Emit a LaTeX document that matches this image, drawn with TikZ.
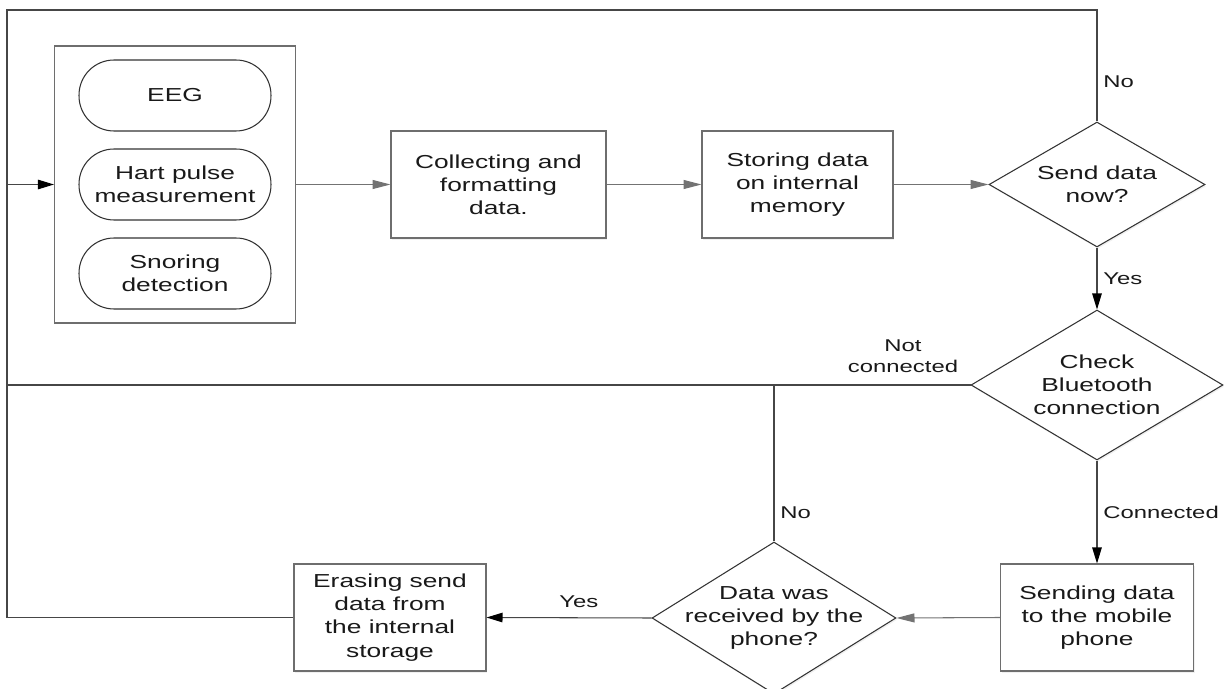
\documentclass[tikz,border=0pt]{standalone}
\usepackage{fontspec}
\setmainfont{Liberation Sans}[FakeStretch=1.4]
\usetikzlibrary{positioning, shapes.geometric, arrows.meta, fit, shadows}

\definecolor{linedark}{RGB}{70,70,70}
\definecolor{flowgray}{RGB}{115,115,115}
\definecolor{boxgray}{RGB}{110,110,110}

\begin{document}
\begin{tikzpicture}[
        x=0.02cm, y=-0.02cm,
        box_text/.style={font=\fontsize{10.7}{13.2}\selectfont, align=center, text=black!90},
        sensor_node/.style={draw=black!80, rectangle, rounded corners=0.7cm, minimum width=3.84cm, minimum height=1.42cm, line width=0.6pt, box_text},
        group_node/.style={draw=boxgray, rectangle, inner xsep=0.48cm, inner ysep=0.27cm, line width=0.6pt},
        process_node/.style={draw=boxgray, fill=white, rectangle, minimum height=2.14cm, line width=0.6pt, box_text, drop shadow={shadow xshift=0.6pt, shadow yshift=-1pt, opacity=0.12}},
        decision_node/.style={draw=black!80, fill=white, diamond, inner sep=0pt, line width=0.6pt, drop shadow={shadow xshift=0.6pt, shadow yshift=-1pt, opacity=0.12}},
        edge_label/.style={font=\fontsize{9.7}{12}\selectfont, align=center, text=black!90},
        line/.style={draw=linedark, line width=0.6pt},
        arrow/.style={line, -{Triangle[length=0.32cm, width=0.19cm, color=black]}},
        flow_arrow/.style={draw=flowgray, line width=0.6pt, -{Triangle[length=0.36cm, width=0.18cm, color=flowgray]}}
    ]
        \useasboundingbox (0,0) rectangle (1225,689);

        % Nodes
        \node (eeg) [sensor_node] at (175,95.5) {EEG};
        \node (pulse) [sensor_node] at (175,184.5) {Hart pulse\\measurement};
        \node (snoring) [sensor_node] at (175,273.5) {Snoring\\detection};
        \node (sensors) [group_node, fit=(eeg) (pulse) (snoring)] {};
        \node (collect) [process_node, minimum width=4.3cm] at (498.5,184.5) {Collecting and\\formatting\\data.};
        \node (storing) [process_node, minimum width=3.82cm] at (797.5,184.5) {Storing data\\on internal\\memory};
        \node (send) [decision_node, minimum width=4.32cm, minimum height=2.5cm, label={[box_text]center:{Send data\\now?}}] at (1097,184.5) {};
        \node (check) [decision_node, minimum width=5.04cm, minimum height=3cm, label={[box_text]center:{Check\\Bluetooth\\connection}}] at (1097,385) {};
        \node (sending) [process_node, minimum width=3.86cm] at (1097,617.5) {Sending data\\to the mobile\\phone};
        \node (received) [decision_node, minimum width=4.88cm, minimum height=3.04cm, label={[box_text]center:{Data was\\received by the\\phone?}}] at (774,618) {};
        \node (erasing) [process_node, minimum width=3.84cm] at (390,617.5) {Erasing send\\data from\\the internal\\storage};

        \coordinate (top_left) at (7,10);
        \coordinate (left_mid) at (7,385);

        % Arrows
        \draw [flow_arrow] (sensors.east) -- (collect.west);
        \draw [flow_arrow] (collect) -- (storing);
        \draw [flow_arrow] (storing) -- (send);
        \draw [arrow] (send.north) |- node[edge_label, anchor=west, pos=0.18] {No} (top_left) |- (sensors.west);
        \draw [arrow] (send.south) -- node[edge_label, anchor=west] {Yes} (check.north);
        \draw [line] (check.west) -- node[edge_label, anchor=south, pos=0.07, yshift=0.12cm] {Not\\connected} (left_mid);
        \draw [arrow] (check.south) -- node[edge_label, anchor=west] {Connected} (sending.north);
        \draw [flow_arrow] (sending.west) -- (received.east);
        \draw [line] (received.north) -- node[edge_label, anchor=west, pos=0.185] {No} (received.north |- left_mid);
        \draw [arrow] (received.west) -- node[edge_label, anchor=south, pos=0.44, yshift=0.08cm] {Yes} (erasing.east);
        \draw [line] (erasing.west) -| (top_left |- sensors.west);
    \end{tikzpicture}
\end{document}
